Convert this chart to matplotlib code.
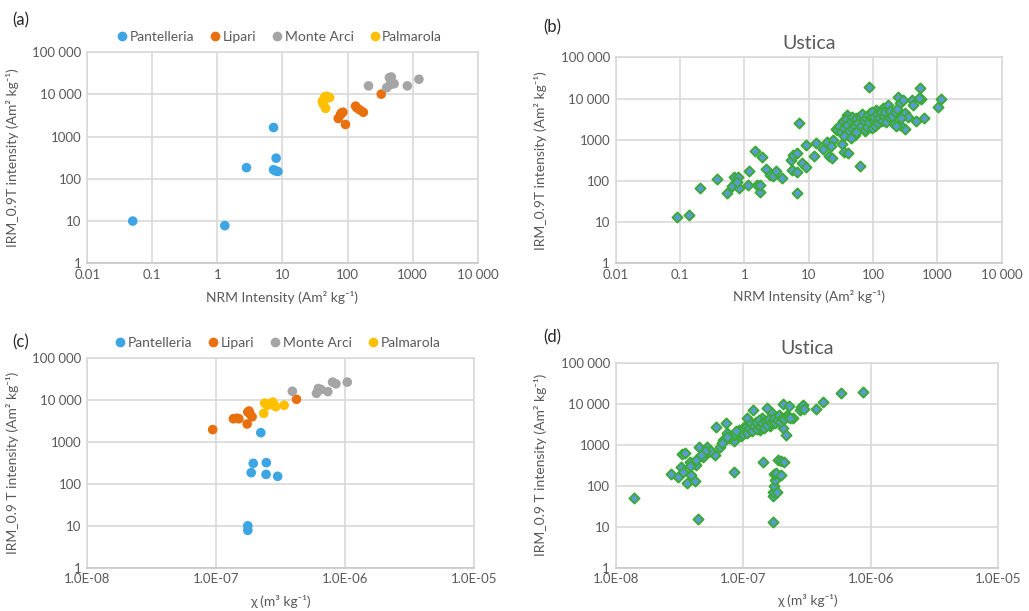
import matplotlib
matplotlib.use("Agg")
import matplotlib.pyplot as plt
from matplotlib.ticker import FixedLocator, FixedFormatter, NullLocator
from matplotlib.lines import Line2D

plt.rcParams['font.family'] = ['Lato', 'DejaVu Sans']

# ---------------- Data ----------------
groups = ["Pantelleria", "Lipari", "Monte Arci", "Palmarola"]
group_colors = ["#3DA5E3", "#E8700E", "#A5A5A5", "#FFC000"]

# Panel (a): NRM vs IRM
a_pant_x = [0.05, 1.3, 2.8, 7.3, 8.0, 7.3, 8.5, 7.8]
a_pant_y = [10, 7.8, 185, 1650, 310, 165, 150, 155]
a_lip_x = [330, 80, 85, 72, 93, 133, 140, 175, 155, 78]
a_lip_y = [10200, 3600, 3800, 2700, 1950, 5300, 4800, 3800, 4300, 3300]
a_mon_x = [210, 470, 440, 520, 400, 450, 830, 1250]
a_mon_y = [16000, 26000, 25000, 18000, 14500, 17000, 16000, 23000]
a_pal_x = [45, 53, 41, 42, 46, 48, 47, 44]
a_pal_y = [8900, 8500, 7000, 6000, 4700, 9000, 8000, 8000]

# Panel (c): susceptibility vs IRM
c_pant_x = [1.76e-7, 1.76e-7, 2.22e-7, 1.94e-7, 1.87e-7, 2.45e-7, 2.44e-7, 3.0e-7]
c_pant_y = [10, 7.8, 1675, 310, 186, 322, 169, 152]
c_lip_x = [9.4e-8, 1.36e-7, 1.45e-7, 1.5e-7, 1.76e-7, 1.83e-7, 1.9e-7, 1.74e-7, 4.2e-7, 1.8e-7]
c_lip_y = [1980, 3600, 3700, 3600, 5200, 4700, 4000, 2700, 10500, 5500]
c_mon_x = [3.9e-7, 6.2e-7, 6.0e-7, 6.5e-7, 7.35e-7, 8.0e-7, 8.5e-7, 1.04e-6]
c_mon_y = [16300, 19000, 14600, 18000, 16000, 27000, 24500, 27000]
c_pal_x = [2.34e-7, 2.38e-7, 2.6e-7, 2.75e-7, 2.9e-7, 2.8e-7, 3.37e-7, 2.5e-7]
c_pal_y = [4850, 8500, 8000, 9000, 7000, 8000, 7540, 7500]

# Panel (b): Ustica NRM vs IRM
b_x = [0.091, 0.14, 0.205, 0.37, 0.53, 0.70, 0.81, 0.65, 0.82, 0.76, 1.15, 1.2, 1.47, 1.9,
       1.55, 1.75, 1.75, 2.2, 2.5, 2.8, 3.1, 3.9, 5.4, 5.8, 6.5, 5.6, 6.7, 6.5, 7.1, 7.8,
       9.1, 9.0, 12, 13.1, 16.5, 19, 21, 23, 24, 22, 27, 33, 35, 41, 39, 35, 44, 50, 53,
       63, 56, 66, 70, 75, 79, 87, 90, 97, 100, 112, 120, 128, 145, 164, 172, 190, 205,
       248, 260, 290, 310, 315, 260, 350, 400, 420, 460, 530, 550, 620, 1035, 1130,
       28, 30, 32, 34, 36, 38, 40, 42, 45, 47, 48, 52, 55, 58, 60, 62, 65, 68, 72, 74,
       78, 82, 85, 88, 92, 95, 98, 102, 105, 108, 115, 118, 125, 132, 138, 150, 155,
       160, 180, 185, 195, 220, 230, 240, 270, 35, 45, 55, 520]
b_y = [13.6, 15.2, 69, 111, 52, 127, 127, 77, 69, 95, 80, 177, 543, 388,
       80, 55, 80, 195, 140, 130, 174, 120, 322, 430, 470, 180, 165, 52, 2500, 270,
       220, 745, 400, 850, 600, 900, 400, 350, 1000, 700, 1800, 800, 500, 480, 3900, 2300,
       2500, 1400, 1300, 235, 1750, 3000, 2100, 1600, 2500, 19400, 4400, 3000, 2300, 5200,
       3000, 3900, 5800, 3300, 7000, 4300, 2500, 11100, 7600, 9000, 4400, 1800, 2300, 3600,
       9000, 7000, 2900, 18000, 9500, 3300, 6350, 9500,
       1700, 2100, 1500, 2800, 1900, 3200, 2300, 1600, 2800, 3500, 1900, 2200, 3300, 2600,
       1800, 3800, 2200, 4200, 2800, 1700, 3400, 2000, 4000, 2700, 3500, 1900, 4600, 2800,
       3600, 2200, 4200, 2600, 3400, 4600, 2900, 3700, 4800, 2700, 3500, 5000, 3800, 4600,
       2200, 5500, 3400, 1200, 1100, 1500, 10500]

# Panel (d): Ustica susceptibility vs IRM
d_x = [1.40e-8, 2.70e-8, 3.1e-8, 3.29e-8, 3.5e-8, 3.25e-8, 3.35e-8, 3.6e-8, 3.9e-8, 4.2e-8,
       4.05e-8, 3.85e-8, 4.25e-8, 4.45e-8, 4.5e-8, 4.85e-8, 5.2e-8, 5.3e-8, 5.8e-8, 6.12e-8,
       6.0e-8, 6.6e-8, 7.0e-8, 7.3e-8, 7.4e-8, 8.0e-8, 8.4e-8, 8.5e-8, 8.9e-8, 9.2e-8,
       9.7e-8, 1.03e-7, 1.07e-7, 1.1e-7, 1.17e-7, 1.2e-7, 1.27e-7, 1.3e-7, 1.35e-7, 1.4e-7,
       1.44e-7, 1.48e-7, 1.53e-7, 1.57e-7, 1.62e-7, 1.67e-7, 1.7e-7, 1.72e-7, 1.7e-7, 1.73e-7,
       1.77e-7, 1.75e-7, 1.83e-7, 1.8e-7, 1.88e-7, 1.98e-7, 1.97e-7, 2.1e-7, 2.05e-7, 2.15e-7,
       1.85e-7, 1.95e-7, 2.05e-7, 2.2e-7, 2.3e-7, 2.45e-7, 2.8e-7, 2.85e-7, 2.95e-7, 3.0e-7,
       3.75e-7, 4.2e-7, 5.9e-7, 8.75e-7,
       9.5e-8, 1.0e-7, 1.02e-7, 1.05e-7, 1.08e-7, 1.12e-7, 1.15e-7, 1.18e-7, 1.22e-7, 1.25e-7,
       1.28e-7, 1.32e-7, 1.36e-7, 1.4e-7, 1.45e-7, 1.5e-7, 1.55e-7, 1.6e-7, 1.65e-7, 1.7e-7,
       1.75e-7, 1.78e-7, 1.85e-7, 1.9e-7, 1.95e-7, 2.0e-7, 2.1e-7, 2.25e-7, 2.35e-7, 8.5e-8,
       8.8e-8, 7.8e-8, 7.5e-8, 6.8e-8, 5.5e-8, 5.0e-8, 4.7e-8, 3.8e-8, 4.3e-8]
d_y = [51, 189, 166, 592, 620, 290, 220, 118, 180, 130,
       350, 380, 320, 15, 900, 500, 880, 650, 610, 2750,
       560, 880, 1300, 3300, 1900, 1600, 1200, 219, 1900, 2300,
       1600, 2800, 4400, 2100, 3000, 7000, 2600, 3200, 2300, 4400,
       385, 3000, 7700, 4000, 2900, 5800, 13.2, 55, 70, 100,
       140, 190, 72, 200, 420, 390, 180, 370, 2500, 1700,
       4800, 4000, 10000, 5300, 8600, 4400, 6900, 8500, 9300, 7400,
       7300, 10800, 17900, 19300,
       2000, 1800, 2400, 2700, 1900, 2500, 3400, 2200, 2800, 3600,
       2400, 3900, 2700, 3300, 2600, 3700, 3100, 4300, 3400, 3800,
       4500, 3300, 4000, 5200, 3600, 4600, 4300, 4800, 4600, 1700,
       2100, 1450, 1550, 1100, 700, 720, 550, 300, 420]

# Tick labels
nrm_ticks = [0.01, 0.1, 1, 10, 100, 1000, 10000]
nrm_labels = ["0.01", "0.1", "1", "10", "100", "1000", "10 000"]
chi_ticks = [1e-8, 1e-7, 1e-6, 1e-5]
chi_labels = ["1.0E-08", "1.0E-07", "1.0E-06", "1.0E-05"]
irm_ticks = [1, 10, 100, 1000, 10000, 100000]
irm_labels = ["1", "10", "100", "1000", "10 000", "100 000"]

TXT = "#595959"
GRID = "#d9d9d9"

fig = plt.figure(figsize=(10.29, 6.11), dpi=100)

axes_pos = {
    'a': [0.0848, 0.5691, 0.3794, 0.3453],
    'b': [0.5983, 0.5691, 0.3751, 0.3371],
    'c': [0.0848, 0.0709, 0.3758, 0.3427],
    'd': [0.5983, 0.0709, 0.3718, 0.3355],
}


def style_axis(ax, xticks, xlabels, xlabel, ylabel):
    ax.set_xscale('log')
    ax.set_yscale('log')
    ax.set_xlim(xticks[0], xticks[-1])
    ax.set_ylim(1, 100000)
    ax.xaxis.set_major_locator(FixedLocator(xticks))
    ax.xaxis.set_major_formatter(FixedFormatter(xlabels))
    ax.yaxis.set_major_locator(FixedLocator(irm_ticks))
    ax.yaxis.set_major_formatter(FixedFormatter(irm_labels))
    ax.xaxis.set_minor_locator(NullLocator())
    ax.yaxis.set_minor_locator(NullLocator())
    ax.grid(True, color=GRID, linewidth=1.2)
    ax.set_axisbelow(True)
    for s in ax.spines.values():
        s.set_color(GRID)
        s.set_linewidth(1.2)
    ax.spines['bottom'].set_color("#c8c8c8")
    ax.tick_params(length=0, labelsize=9.5, colors=TXT, pad=4)
    ax.set_xlabel(xlabel, fontsize=10, color=TXT)
    ax.set_ylabel(ylabel, fontsize=10, color=TXT)
    ax.xaxis.set_label_coords(0.5, -0.13)


ylab_ab = "IRM_0.9T intensity (Am\u00b2 kg\u207b\u00b9)"
ylab_cd = "IRM_0.9 T intensity (Am\u00b2 kg\u207b\u00b9)"
xlab_ab = "NRM Intensity (Am\u00b2 kg\u207b\u00b9)"
xlab_cd = "\u03c7 (m\u00b3 kg\u207b\u00b9)"

# (a)
axa = fig.add_axes(axes_pos['a'])
style_axis(axa, nrm_ticks, nrm_labels, xlab_ab, ylab_ab)
for xs, ys, c in zip([a_pant_x, a_lip_x, a_mon_x, a_pal_x],
                     [a_pant_y, a_lip_y, a_mon_y, a_pal_y], group_colors):
    axa.scatter(xs, ys, s=48, color=c, edgecolors='none', zorder=3)
axa.yaxis.set_label_coords(-0.175, 0.5)

# (c)
axc = fig.add_axes(axes_pos['c'])
style_axis(axc, chi_ticks, chi_labels, xlab_cd, ylab_cd)
for xs, ys, c in zip([c_pant_x, c_lip_x, c_mon_x, c_pal_x],
                     [c_pant_y, c_lip_y, c_mon_y, c_pal_y], group_colors):
    axc.scatter(xs, ys, s=48, color=c, edgecolors='none', zorder=3)
axc.yaxis.set_label_coords(-0.177, 0.5)

# legends
handles = [Line2D([], [], marker='o', linestyle='none', markersize=7,
                  markerfacecolor=c, markeredgecolor='none') for c in group_colors]
for ax in (axa, axc):
    ax.legend(handles, groups, loc='lower center', bbox_to_anchor=(0.49, 1.0),
              ncol=4, frameon=False, fontsize=10, labelcolor=TXT,
              handletextpad=0.05, columnspacing=1.0, borderaxespad=0.3,
              handlelength=1.0)

# (b)
axb = fig.add_axes(axes_pos['b'])
style_axis(axb, nrm_ticks, nrm_labels, xlab_ab, ylab_ab)
axb.scatter(b_x, b_y, s=26, marker='D', facecolor="#5B9BD5", edgecolors="#3BAA35",
            linewidths=1.4, zorder=3)
axb.set_title("Ustica", fontsize=14, color=TXT, pad=6)
axb.yaxis.set_label_coords(-0.178, 0.5)

# (d)
axd = fig.add_axes(axes_pos['d'])
style_axis(axd, chi_ticks, chi_labels, xlab_cd, ylab_cd)
axd.scatter(d_x, d_y, s=26, marker='D', facecolor="#5B9BD5", edgecolors="#3BAA35",
            linewidths=1.4, zorder=3)
axd.set_title("Ustica", fontsize=14, color=TXT, pad=6)
axd.yaxis.set_label_coords(-0.18, 0.5)

# panel labels
for lab, (x, y) in zip(["(a)", "(b)", "(c)", "(d)"],
                       [(12, 20), (543, 27), (12, 342), (543, 337)]):
    fig.text(x / 1029, 1 - y / 611, lab, fontsize=12, color="#262626",
             ha='left', va='center')

fig.savefig("out.png", dpi=100)
